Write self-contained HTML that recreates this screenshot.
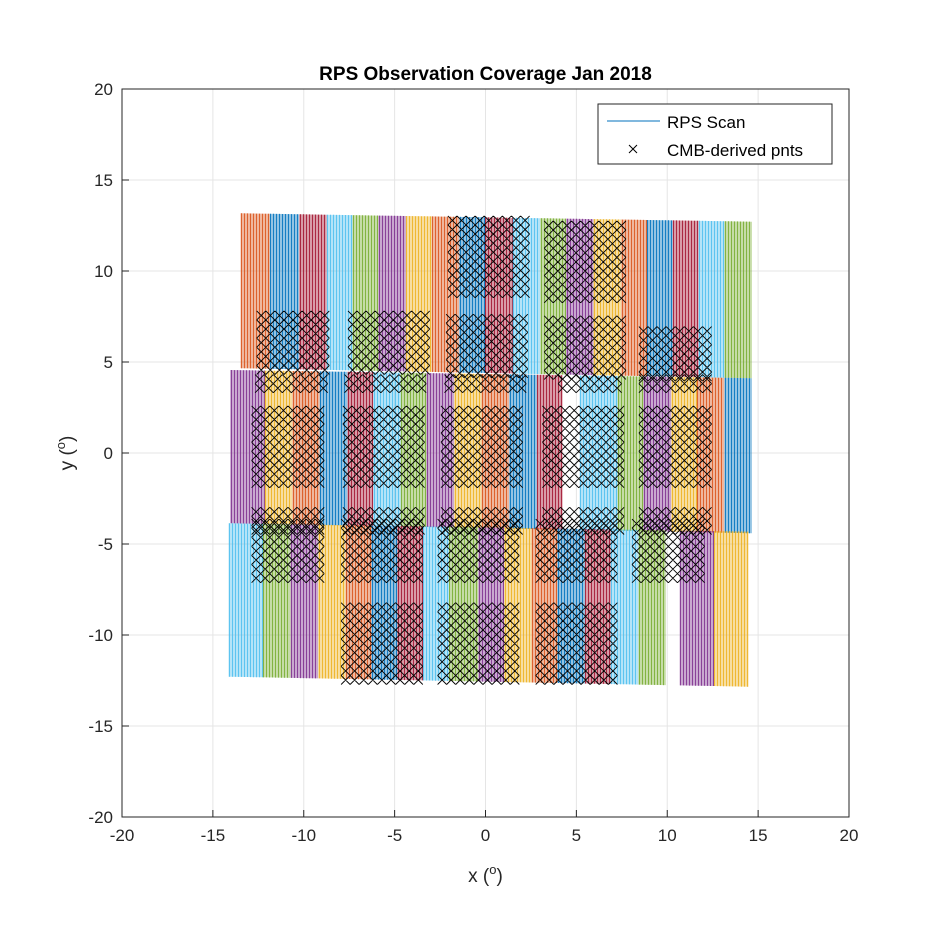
<!DOCTYPE html>
<html><head><meta charset="utf-8"><style>
body{margin:0;background:#fff;}
svg text{font-family:"Liberation Sans",Arial,sans-serif;}
</style></head><body>
<svg id="chart" width="938" height="938" viewBox="0 0 938 938" xmlns="http://www.w3.org/2000/svg">
<rect x="0" y="0" width="938" height="938" fill="#fff"/>
<g id="grid"></g>
<g id="strips"></g>
<g id="pts"></g>
<g id="axes"></g>
<text x="485.5" y="80" text-anchor="middle" font-size="19" font-weight="bold" fill="#000">RPS Observation Coverage Jan 2018</text>
<text x="485.5" y="882" text-anchor="middle" font-size="19" fill="#262626">x (<tspan font-size="13" dy="-8">o</tspan><tspan dy="8">)</tspan></text>
<text transform="translate(73,453) rotate(-90)" text-anchor="middle" font-size="19" fill="#262626">y (<tspan font-size="13" dy="-8">o</tspan><tspan dy="8">)</tspan></text>
<g>
<rect x="598" y="104" width="234" height="60" fill="#fff" stroke="#262626" stroke-width="1"/>
<line x1="607" y1="121" x2="660" y2="121" stroke="#0072BD" stroke-width="1"/>
<text x="667" y="128" font-size="17" fill="#000">RPS Scan</text>
<path d="M629 145 L637 153 M637 145 L629 153" stroke="#000" stroke-width="1"/>
<text x="667" y="156" font-size="17" fill="#000">CMB-derived pnts</text>
</g>
</svg>
<script>
const xTicks=[-20,-15,-10,-5,0,5,10,15,20];
const yTicks=[-20,-15,-10,-5,0,5,10,15,20];
const COLORS={B:'#0072BD',O:'#D95319',Y:'#EDB120',P:'#7E2F8E',G:'#77AC30',L:'#4DBEEE',R:'#A2142F'};
// strip edges (deg) and colours for each row of scans
const topEdges=[-13.48,-11.87,-10.26,-8.74,-7.32,-5.90,-4.38,-2.96,-1.45,-0.03,1.49,3.01,4.43,5.94,7.46,8.88,10.30,11.72,13.14,14.66];
const topColors=['O','B','R','L','G','P','Y','O','B','R','L','G','P','Y','O','B','R','L','G'];
const topY=[13.17,12.71,4.66,4.11];
const midEdges=[-14.05,-12.15,-10.63,-9.12,-7.60,-6.18,-4.67,-3.25,-1.73,-0.22,1.30,2.82,4.24,5.18,7.27,8.69,10.21,11.63,13.14,14.66];
const midColors=['P','Y','O','B','R','L','G','P','Y','O','B','R',null,'L','G','P','Y','O','B'];
const midY=[4.56,4.11,-3.86,-4.41];
const botEdges=[-14.14,-12.25,-10.73,-9.21,-7.70,-6.28,-4.86,-3.44,-2.01,-0.40,1.02,2.53,3.95,5.47,6.89,8.41,9.92,10.68,12.57,14.47];
const botColors=['L','G','P','Y','O','B','R','L','G','P','Y','O','B','R','L','G',null,'P','Y'];
const botY=[-3.86,-4.32,-12.29,-12.84];
// CMB point blocks [x0,x1,yTop,yBot]
const blockX0=[-12.34,-7.32,-1.92,3.48,8.69,-1.82,3.48,-12.43,-7.51,-2.01,4.24,8.69,-12.62,-7.60,-2.20,3.38,8.69,-12.62,-7.60,-2.20,3.38,8.69,-12.62,-7.70,-2.39,3.01,8.31,-7.70,-2.39,3.01];
const blockX1=[-8.36,-3.15,2.34,7.65,12.57,2.34,7.65,-8.55,-3.25,2.15,7.56,12.57,-8.65,-3.25,2.06,7.46,12.57,-8.65,-3.25,2.06,7.46,12.57,-8.74,-3.53,1.87,7.18,12.19,-3.53,1.77,7.08];
const blockY0=[7.68,7.68,7.68,7.40,7.13,12.81,12.53,4.47,4.47,4.47,4.47,4.47,2.46,2.46,2.46,2.46,2.46,-2.85,-2.85,-2.85,-2.85,-2.85,-3.77,-3.77,-3.77,-3.77,-3.77,-8.26,-8.26,-8.26];
const blockY1=[4.56,4.56,4.38,4.29,4.20,8.78,8.50,3.56,3.56,3.56,3.56,3.56,-1.66,-1.66,-1.66,-1.66,-1.66,-4.23,-4.23,-4.23,-4.23,-4.23,-6.88,-6.88,-6.88,-6.88,-6.88,-12.47,-12.47,-12.47];

const X0=122,X1=849,Y0=817,Y1=89;
const sx=v=>X0+(v+20)/40*(X1-X0);
const sy=v=>Y0-(v+20)/40*(Y0-Y1);
const NS='http://www.w3.org/2000/svg';
function mk(tag,attrs,parent){const e=document.createElementNS(NS,tag);for(const k in attrs)e.setAttribute(k,attrs[k]);parent.appendChild(e);return e;}
const grid=document.getElementById('grid'),axes=document.getElementById('axes');
xTicks.forEach(t=>{
 const l=mk('line',{x1:sx(t),x2:sx(t),y1:Y1,y2:Y0,stroke:'#e5e5e5','stroke-width':1},grid);
 
 
 const tk=mk('line',{x1:sx(t),x2:sx(t),y1:Y0,y2:Y0-7,stroke:'#262626'},axes);
 
 
 const tx=mk('text',{x:sx(t),y:Y0+24,'text-anchor':'middle','font-size':17,fill:'#262626'},axes);
 tx.textContent=t;
 
 
});
yTicks.forEach(t=>{
 const l=mk('line',{x1:X0,x2:X1,y1:sy(t),y2:sy(t),stroke:'#e5e5e5','stroke-width':1},grid);
 
 
 const tk=mk('line',{x1:X0,x2:X0+7,y1:sy(t),y2:sy(t),stroke:'#262626'},axes);
 
 
 const tx=mk('text',{x:X0-9,y:sy(t)+6,'text-anchor':'end','font-size':17,fill:'#262626'},axes);
 tx.textContent=t;
 
 
});
const frame=mk('rect',{x:X0,y:Y1,width:X1-X0,height:Y0-Y1,fill:'none',stroke:'#262626','stroke-width':1},axes);



const strips=document.getElementById('strips');
function drawRow(edges,colors,yb,name){
 const xa=edges[0],xb=edges[edges.length-1];
 const interp=(x,a,b)=>a+(b-a)*(x-xa)/(xb-xa);
 for(let i=0;i<colors.length;i++){
  if(!colors[i])continue;
  const g=mk('g',{},strips);
  
  
  const a=edges[i],b=edges[i+1];
  const pxA=sx(a),pxB=sx(b);
  const c=COLORS[colors[i]];
  const poly=[[pxA,sy(interp(a,yb[0],yb[1]))],[pxB,sy(interp(b,yb[0],yb[1]))],[pxB,sy(interp(b,yb[2],yb[3]))],[pxA,sy(interp(a,yb[2],yb[3]))]];
  mk('polygon',{points:poly.map(p=>p.map(v=>v.toFixed(1)).join(',')).join(' '),fill:c,'fill-opacity':0.42},g);
  let dd='';
  for(let px=Math.ceil(pxA)+0.5;px<pxB;px+=3){
   const xv=(px-X0)/(X1-X0)*40-20;
   const yt=sy(interp(xv,yb[0],yb[1])),ybt=sy(interp(xv,yb[2],yb[3]));
   dd+=`M${px} ${ybt.toFixed(1)}V${yt.toFixed(1)}`;
  }
  mk('path',{d:dd,stroke:c,'stroke-width':1,fill:'none','stroke-opacity':0.85},g);
 }
}
drawRow(topEdges,topColors,topY,'top-row');
drawRow(midEdges,midColors,midY,'middle-row');
drawRow(botEdges,botColors,botY,'bottom-row');

const pts=document.getElementById('pts');
let d='';
const step=0.5,h=4.5;
for(let k=0;k<blockX0.length;k++){
 for(let xv=blockX0[k];xv<=blockX1[k]+0.01;xv+=step){
  for(let yv=blockY1[k];yv<=blockY0[k]+0.01;yv+=step){
   const px=sx(xv),py=sy(yv);
   d+=`M${(px-h).toFixed(1)} ${(py-h).toFixed(1)}L${(px+h).toFixed(1)} ${(py+h).toFixed(1)}M${(px+h).toFixed(1)} ${(py-h).toFixed(1)}L${(px-h).toFixed(1)} ${(py+h).toFixed(1)}`;
  }
 }
}
const pp=mk('path',{d:d,stroke:'#000','stroke-width':0.9,fill:'none'},pts);


</script>
</body></html>
